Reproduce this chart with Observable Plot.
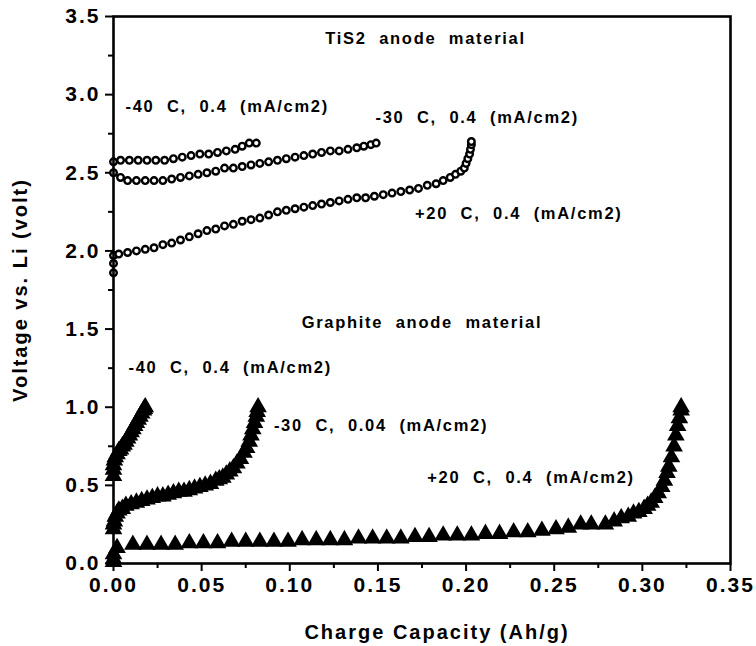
<!DOCTYPE html>
<html><head><meta charset="utf-8">
<script src="https://cdn.jsdelivr.net/npm/d3@7"></script>
<script src="https://cdn.jsdelivr.net/npm/@observablehq/plot@0.6"></script>
<style>html,body{margin:0;padding:0;background:#fff;}</style>
</head><body><div id="chart"></div>
<script>
// TiS2 anode (open circles)
const tis2M40X = [0, 0.004, 0.009, 0.014, 0.019, 0.024, 0.029, 0.034, 0.039, 0.044, 0.049, 0.054, 0.059, 0.064, 0.069, 0.073, 0.077, 0.081];
const tis2M40Y = [2.57, 2.58, 2.58, 2.58, 2.58, 2.58, 2.58, 2.59, 2.60, 2.61, 2.62, 2.62, 2.63, 2.64, 2.65, 2.67, 2.69, 2.69];
const tis2M30X = [0, 0.004, 0.008, 0.013, 0.018, 0.023, 0.028, 0.033, 0.038, 0.043, 0.048, 0.053, 0.058, 0.063, 0.068, 0.073, 0.078, 0.083, 0.088, 0.093, 0.098, 0.103, 0.108, 0.113, 0.118, 0.123, 0.128, 0.133, 0.138, 0.142, 0.146, 0.149];
const tis2M30Y = [2.50, 2.47, 2.45, 2.45, 2.45, 2.45, 2.45, 2.46, 2.47, 2.48, 2.49, 2.50, 2.51, 2.53, 2.53, 2.54, 2.55, 2.56, 2.57, 2.58, 2.59, 2.60, 2.61, 2.62, 2.63, 2.64, 2.64, 2.65, 2.66, 2.67, 2.68, 2.69];
const tis2P20X = [0, 0, 0, 0.003, 0.008, 0.013, 0.018, 0.023, 0.028, 0.033, 0.038, 0.043, 0.048, 0.053, 0.058, 0.063, 0.068, 0.073, 0.078, 0.083, 0.088, 0.093, 0.098, 0.103, 0.108, 0.113, 0.118, 0.123, 0.128, 0.133, 0.138, 0.143, 0.148, 0.153, 0.158, 0.163, 0.168, 0.173, 0.178, 0.183, 0.187, 0.191, 0.194, 0.197, 0.199, 0.200, 0.201, 0.202, 0.2025, 0.203, 0.203];
const tis2P20Y = [1.86, 1.92, 1.97, 1.98, 1.99, 2.00, 2.01, 2.02, 2.04, 2.05, 2.07, 2.09, 2.11, 2.13, 2.14, 2.16, 2.17, 2.19, 2.20, 2.21, 2.23, 2.25, 2.26, 2.27, 2.28, 2.29, 2.30, 2.31, 2.32, 2.33, 2.34, 2.34, 2.35, 2.36, 2.37, 2.38, 2.39, 2.40, 2.42, 2.43, 2.45, 2.47, 2.49, 2.51, 2.53, 2.56, 2.59, 2.62, 2.65, 2.68, 2.70];

// Graphite anode (triangles)
const grM40X = [0, 0, 0, 0.0005, 0.001, 0.002, 0.003, 0.004, 0.005, 0.006, 0.007, 0.008, 0.009, 0.010, 0.011, 0.012, 0.013, 0.014, 0.015, 0.016, 0.017, 0.0175, 0.018];
const grM40Y = [0.56, 0.60, 0.63, 0.66, 0.68, 0.70, 0.72, 0.73, 0.75, 0.76, 0.78, 0.80, 0.82, 0.84, 0.86, 0.88, 0.90, 0.92, 0.94, 0.96, 0.98, 0.99, 1.00];
const grM30X = [0, 0, 0.0005, 0.001, 0.002, 0.003, 0.005, 0.007, 0.010, 0.013, 0.016, 0.019, 0.022, 0.025, 0.028, 0.031, 0.034, 0.037, 0.040, 0.043, 0.046, 0.049, 0.052, 0.055, 0.058, 0.060, 0.062, 0.064, 0.066, 0.068, 0.070, 0.072, 0.074, 0.0755, 0.077, 0.078, 0.079, 0.080, 0.081, 0.0815, 0.082];
const grM30Y = [0.22, 0.25, 0.27, 0.30, 0.32, 0.34, 0.35, 0.37, 0.38, 0.39, 0.40, 0.41, 0.42, 0.43, 0.43, 0.44, 0.45, 0.46, 0.46, 0.47, 0.48, 0.49, 0.50, 0.51, 0.53, 0.54, 0.55, 0.57, 0.59, 0.61, 0.64, 0.67, 0.71, 0.74, 0.78, 0.82, 0.86, 0.90, 0.94, 0.97, 1.00];
const grP20X = [0, 0, 0, 0.002, 0.011, 0.019, 0.027, 0.035, 0.043, 0.051, 0.059, 0.067, 0.075, 0.083, 0.091, 0.099, 0.107, 0.115, 0.123, 0.131, 0.139, 0.147, 0.155, 0.163, 0.171, 0.179, 0.187, 0.195, 0.203, 0.211, 0.219, 0.227, 0.235, 0.243, 0.251, 0.258, 0.265, 0.271, 0.279, 0.284, 0.288, 0.292, 0.295, 0.298, 0.301, 0.303, 0.305, 0.307, 0.309, 0.311, 0.3125, 0.314, 0.315, 0.3165, 0.318, 0.319, 0.320, 0.321, 0.322, 0.322];
const grP20Y = [0.01, 0.03, 0.06, 0.10, 0.12, 0.12, 0.12, 0.12, 0.13, 0.13, 0.13, 0.14, 0.14, 0.14, 0.14, 0.14, 0.15, 0.15, 0.15, 0.15, 0.16, 0.16, 0.16, 0.16, 0.17, 0.17, 0.18, 0.18, 0.18, 0.19, 0.19, 0.20, 0.20, 0.21, 0.22, 0.23, 0.25, 0.25, 0.25, 0.27, 0.29, 0.30, 0.32, 0.33, 0.35, 0.37, 0.39, 0.42, 0.45, 0.49, 0.53, 0.58, 0.62, 0.68, 0.75, 0.82, 0.88, 0.93, 0.98, 1.00];

// Annotations
const noteText = ["TiS2  anode  material", "-40  C,  0.4  (mA/cm2)", "-30  C,  0.4  (mA/cm2)", "+20  C,  0.4  (mA/cm2)", "Graphite  anode  material", "-40  C,  0.4  (mA/cm2)", "-30  C,  0.04  (mA/cm2)", "+20  C,  0.4  (mA/cm2)"];
const noteX = [0.177, 0.0068, 0.1486, 0.171, 0.175, 0.0085, 0.091, 0.178];
const noteY = [3.36, 2.92, 2.85, 2.24, 1.54, 1.25, 0.88, 0.55];
const noteAnchor = ["middle", "start", "start", "start", "middle", "start", "start", "start"];

// Axes
const xMajorTicks = [0, 0.05, 0.10, 0.15, 0.20, 0.25, 0.30, 0.35];
const xMinorTicks = [0.025, 0.075, 0.125, 0.175, 0.225, 0.275, 0.325];
const yMajorTicks = [0, 0.5, 1.0, 1.5, 2.0, 2.5, 3.0, 3.5];
const yMinorTicks = [0.25, 0.75, 1.25, 1.75, 2.25, 2.75, 3.25];
const xTitle = "Charge Capacity (Ah/g)";
const yTitle = "Voltage vs. Li (volt)";

const zip = (xs, ys) => xs.map((x, i) => ({x, y: ys[i]}));
const circles = [zip(tis2M40X, tis2M40Y), zip(tis2M30X, tis2M30Y), zip(tis2P20X, tis2P20Y)].flat();
const triangles = [zip(grM40X, grM40Y), zip(grM30X, grM30Y), zip(grP20X, grP20Y)].flat();
const notes = noteText.map((t, i) => ({t, x: noteX[i], y: noteY[i], a: noteAnchor[i]}));
const font = "'Liberation Sans', Arial, Helvetica, sans-serif";
const noteOpts = {x: "x", y: "y", text: "t", fontSize: 16.5, fontWeight: "bold", fill: "black"};

const chart = Plot.plot({
  width: 756, height: 646,
  marginLeft: 113, marginRight: 26, marginTop: 16, marginBottom: 83,
  x: {domain: [0, 0.35]},
  y: {domain: [0, 3.5]},
  style: {fontFamily: font, fontWeight: "bold", background: "white", color: "black"},
  marks: [
    Plot.axisX(xMinorTicks, {tickSize: 5, strokeWidth: 2, tickFormat: () => "", label: null}),
    Plot.axisY(yMinorTicks, {tickSize: 5, strokeWidth: 2, tickFormat: () => "", label: null}),
    Plot.axisX(xMajorTicks, {tickSize: 8, tickPadding: 6, strokeWidth: 2, tickFormat: d3.format(".2f"), fontSize: 21, fontWeight: "bold", label: null}),
    Plot.axisY(yMajorTicks, {tickSize: 8, tickPadding: 5, strokeWidth: 2, tickFormat: d3.format(".1f"), fontSize: 21, fontWeight: "bold", label: null}),
    Plot.dot(triangles, {x: "x", y: "y", symbol: "triangle", r: 5.4, fill: "black", stroke: "black", strokeWidth: 1.8}),
    Plot.dot(circles, {x: "x", y: "y", r: 3.3, fill: "white", stroke: "black", strokeWidth: 2.4}),
    Plot.text(notes.filter(d => d.a === "start"), {...noteOpts, textAnchor: "start"}),
    Plot.text(notes.filter(d => d.a === "middle"), {...noteOpts, textAnchor: "middle"}),
    Plot.text([xTitle], {text: d => d, frameAnchor: "bottom", textAnchor: "middle", dy: 75, dx: 15, fontSize: 20, fontWeight: "bold", fill: "black"}),
    Plot.text([yTitle], {text: d => d, frameAnchor: "left", textAnchor: "middle", dx: -93, rotate: -90, fontSize: 20, fontWeight: "bold", fill: "black"}),
    Plot.frame({stroke: "black", strokeWidth: 2.6})
  ]
});
document.getElementById("chart").append(chart);
const svg = d3.select(chart.tagName === "svg" ? chart : chart.querySelector("svg"));
svg.selectAll("text").each(function() {
  const t = this.textContent;
  const el = d3.select(this);
  if (t === xTitle || t === yTitle) el.style("letter-spacing", "2px");
  else if (/^\d\.\d+$/.test(t)) el.style("letter-spacing", "2px");
  else el.style("letter-spacing", "1.7px");
});
</script>
</body></html>
